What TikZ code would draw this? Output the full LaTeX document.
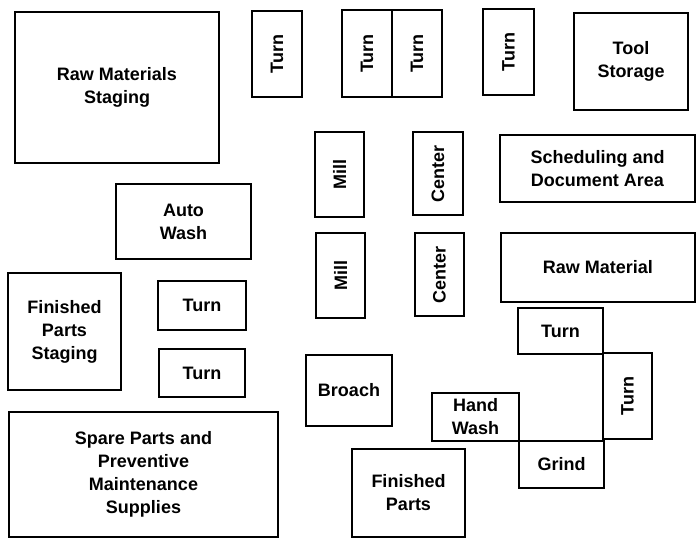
\documentclass[tikz,border=0pt]{standalone}
\usepackage{fontspec}
\setmainfont{Liberation Sans}
\usetikzlibrary{fit}

\tikzset{
  area/.style={draw, line width=1pt, inner sep=0pt},
  every label/.style={align=center, inner sep=0pt,
    font=\bfseries\fontsize{9}{11.5}\selectfont},
}
\newcommand{\upword}[1]{\rotatebox{90}{#1}}

\begin{document}
\begin{tikzpicture}[x=0.5pt, y=-0.5pt]
  \useasboundingbox (0,0) rectangle (696,546);

  % top row
  \node[area, fit={(15,12) (219,163)}, label=center:{Raw Materials\\Staging}] (rawstage) {};
  \node[area, fit={(252,11) (302,97)}, label=center:{\upword{Turn}}] (turna) {};
  \node[area, fit={(342,10) (392,97)}, label=center:{\upword{Turn}}] (turnb) {};
  \node[area, fit={(392,10) (442,97)}, label=center:{\upword{Turn}}] (turnc) {};
  \node[area, fit={(483,9) (534,95)}, label=center:{\upword{Turn}}] (turnd) {};
  \node[area, fit={(574,13) (688,110)}, label=center:{Tool\\Storage}] (tools) {};

  % mills and centers
  \node[area, fit={(315,132) (364,217)}, label=center:{\upword{Mill}}] (milla) {};
  \node[area, fit={(413,132) (463,215)}, label=center:{\upword{Center}}] (centera) {};
  \node[area, fit={(316,233) (365,318)}, label=center:{\upword{Mill}}] (millb) {};
  \node[area, fit={(415,233) (464,316)}, label=center:{\upword{Center}}] (centerb) {};

  \node[area, fit={(500,135) (695,202)}, label=center:{Scheduling and\\Document Area}] (sched) {};
  \node[area, fit={(501,233) (695,302)}, label=center:{Raw Material}] (rawmat) {};
  \node[area, fit={(116,184) (251,259)}, label=center:{Auto\\Wash}] (autowash) {};

  % left side
  \node[area, fit={(8,273) (121,390)}, label=center:{Finished\\Parts\\Staging}] (fpstage) {};
  \node[area, fit={(158,281) (246,330)}, label=center:{Turn}] (turne) {};
  \node[area, fit={(159,349) (245,397)}, label=center:{Turn}] (turnf) {};
  \node[area, fit={(9,412) (278,537)},
    label=center:{Spare Parts and\\Preventive\\Maintenance\\Supplies}] (spare) {};

  % bottom right cell
  \node[area, fit={(306,355) (392,426)}, label=center:{Broach}] (broach) {};
  \node[area, fit={(518,308) (603,354)}, label=center:{Turn}] (turng) {};
  \node[area, fit={(603,353) (652,439)}, label=center:{\upword{Turn}}] (turnh) {};
  \node[area, fit={(432,393) (519,441)}, label=center:{Hand\\Wash}] (handwash) {};
  \node[area, fit={(519,441) (604,488)}, label=center:{Grind}] (grind) {};
  \node[area, fit={(352,449) (465,537)}, label=center:{Finished\\Parts}] (finparts) {};
\end{tikzpicture}
\end{document}
